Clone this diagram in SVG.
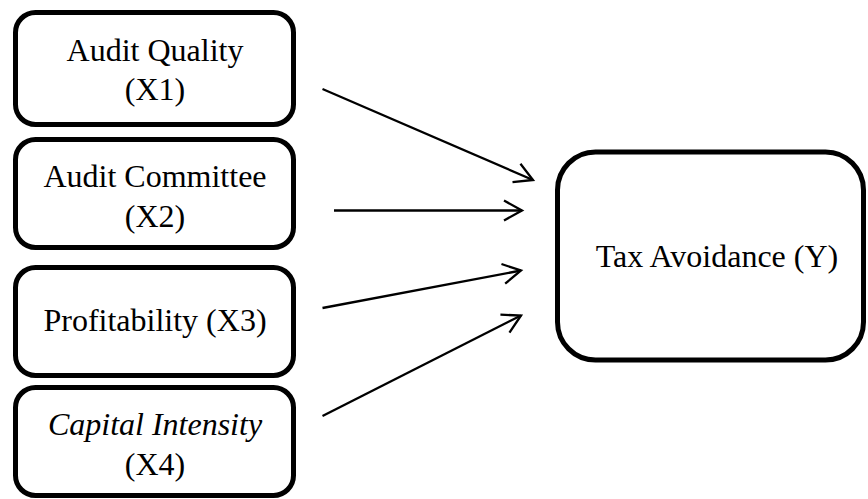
<svg xmlns="http://www.w3.org/2000/svg" width="868" height="499" viewBox="0 0 868 499">
  <style>
    .box { fill: #fff; stroke: #000; stroke-width: 5; }
    .lbl { font-family: "Liberation Serif", "Times New Roman", serif; font-size: 32px; fill: #000; text-anchor: middle; }
    .it { font-style: italic; }
    .conn { stroke: #000; stroke-width: 2.3; fill: none; marker-end: url(#arr); }
  </style>
  <defs>
    <marker id="arr" markerUnits="userSpaceOnUse" viewBox="-22 -13 26 26" markerWidth="26" markerHeight="26" refX="0" refY="0" orient="auto" overflow="visible">
      <path d="M -18 -10 L 0 0 L -18 10" fill="none" stroke="#000" stroke-width="2.3"/>
    </marker>
  </defs>
  <rect width="868" height="499" fill="#fff"/>
  <g id="x1">
    <rect class="box" x="15.5" y="12.5" width="278" height="112" rx="20"/>
    <text class="lbl" x="155" y="61">Audit Quality</text>
    <text class="lbl" x="155" y="100">(X1)</text>
  </g>
  <g id="x2">
    <rect class="box" x="15.5" y="139.5" width="278" height="108" rx="20"/>
    <text class="lbl" x="155" y="187">Audit Committee</text>
    <text class="lbl" x="155" y="227">(X2)</text>
  </g>
  <g id="x3">
    <rect class="box" x="15.5" y="267.5" width="278" height="108" rx="20"/>
    <text class="lbl" x="155" y="331">Profitability (X3)</text>
  </g>
  <g id="x4">
    <rect class="box" x="15.5" y="387.5" width="278" height="108" rx="20"/>
    <text class="lbl it" x="155" y="435">Capital Intensity</text>
    <text class="lbl" x="155" y="475">(X4)</text>
  </g>
  <g id="y">
    <rect class="box" x="557.5" y="152" width="306" height="208" rx="38"/>
    <text class="lbl" x="717" y="267">Tax Avoidance (Y)</text>
  </g>
  <g id="connectors">
    <line class="conn" x1="322.5" y1="89" x2="533" y2="180"/>
    <line class="conn" x1="334" y1="210.5" x2="522" y2="210.5"/>
    <line class="conn" x1="322.5" y1="308" x2="521" y2="270.5"/>
    <line class="conn" x1="322.5" y1="416" x2="521" y2="315.5"/>
  </g>
</svg>
